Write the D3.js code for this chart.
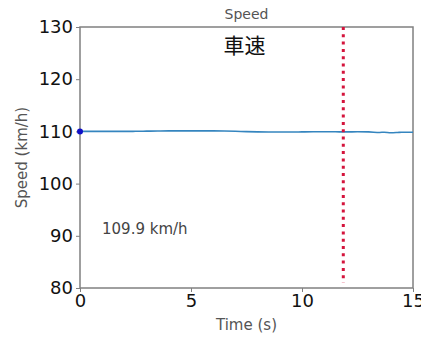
<!DOCTYPE html>
<html>
<head>
<meta charset="utf-8">
<script src="https://cdn.jsdelivr.net/npm/d3@7"></script>
<style>
  html, body { margin: 0; padding: 0; background: #fff; }
  svg { display: block; }
</style>
</head>
<body>
<svg id="chart" width="421" height="338"></svg>
<script>
// Speed trace (km/h) over time (s)
const times  = [0, 0.5, 1, 1.5, 2, 2.5, 3, 3.5, 4, 4.5, 5, 5.5, 6, 6.5, 7, 7.5, 8, 8.5, 9, 9.5, 10, 10.5, 11, 11.5, 12, 12.5, 13, 13.5, 13.7, 14, 14.3, 14.5, 15];
const speeds = [110.0, 110.0, 110.0, 110.0, 110.0, 110.02, 110.05, 110.08, 110.1, 110.1, 110.1, 110.1, 110.1, 110.08, 110.03, 109.95, 109.9, 109.88, 109.88, 109.88, 109.9, 109.92, 109.93, 109.92, 109.9, 109.92, 109.9, 109.8, 109.85, 109.75, 109.8, 109.85, 109.85];
const xTicks = [0, 5, 10, 15];
const yTicks = [80, 90, 100, 110, 120, 130];
const cursorTime = 11.86;
const currentSpeed = 109.9;
const startPoint = { t: 0, v: 110.0 };

const svg = d3.select("#chart");
const margin = { left: 80, right: 8, top: 27, bottom: 50 };
const W = 421, H = 338;

const x = d3.scaleLinear().domain([0, 15]).range([margin.left, W - margin.right]);
const y = d3.scaleLinear().domain([80, 130]).range([H - margin.bottom, margin.top]);

const spine = "#808080";
const font = "'DejaVu Sans', 'Noto Sans', sans-serif";

// Frame
svg.append("rect")
  .attr("x", x(0)).attr("y", y(130))
  .attr("width", x(15) - x(0)).attr("height", y(80) - y(130))
  .attr("fill", "none").attr("stroke", spine).attr("stroke-width", 1.5);

// Axes
const xAxis = svg.append("g")
  .attr("transform", `translate(0,${y(80)})`)
  .call(d3.axisBottom(x).tickValues(xTicks).tickSize(4).tickPadding(2).tickFormat(d3.format("d")));
const yAxis = svg.append("g")
  .attr("transform", `translate(${x(0)},0)`)
  .call(d3.axisLeft(y).tickValues(yTicks).tickSize(4).tickPadding(3).tickFormat(d3.format("d")));

[xAxis, yAxis].forEach(g => {
  g.select(".domain").remove();
  g.selectAll(".tick line").attr("stroke", spine).attr("stroke-width", 1);
  g.selectAll(".tick text")
    .attr("fill", "#111").style("font-family", font).style("font-size", "18px");
});

// Speed line
const line = d3.line().x((d, i) => x(times[i])).y(d => y(d)).curve(d3.curveMonotoneX);
svg.append("path")
  .datum(speeds)
  .attr("d", line)
  .attr("fill", "none")
  .attr("stroke", "#3585bf")
  .attr("stroke-width", 1.6);

// Start marker
svg.append("circle")
  .attr("cx", x(startPoint.t)).attr("cy", y(startPoint.v))
  .attr("r", 3).attr("fill", "#1010c8");

// Current time cursor
svg.append("line")
  .attr("x1", x(cursorTime)).attr("x2", x(cursorTime))
  .attr("y1", y(130)).attr("y2", y(81))
  .attr("stroke", "#d4143c").attr("stroke-width", 3)
  .attr("stroke-dasharray", "3,4.3");

// Titles and labels
svg.append("text")
  .attr("x", (x(0) + x(15)) / 2).attr("y", 19)
  .attr("text-anchor", "middle").attr("fill", "#555")
  .style("font-family", font).style("font-size", "14px")
  .text("Speed");

svg.append("text")
  .attr("x", (x(0) + x(15)) / 2 - 2).attr("y", 53)
  .attr("text-anchor", "middle").attr("fill", "#111")
  .style("font-family", "'Noto Sans CJK JP', sans-serif").style("font-size", "21px")
  .text("車速");

svg.append("text")
  .attr("x", 102).attr("y", 234)
  .attr("fill", "#444")
  .style("font-family", font).style("font-size", "15px")
  .text(`${currentSpeed} km/h`);

svg.append("text")
  .attr("x", (x(0) + x(15)) / 2).attr("y", 330)
  .attr("text-anchor", "middle").attr("fill", "#555")
  .style("font-family", font).style("font-size", "15px")
  .text("Time (s)");

svg.append("text")
  .attr("transform", `translate(27,${(y(80) + y(130)) / 2}) rotate(-90)`)
  .attr("text-anchor", "middle").attr("fill", "#555")
  .style("font-family", font).style("font-size", "15px")
  .text("Speed (km/h)");
</script>
</body>
</html>
